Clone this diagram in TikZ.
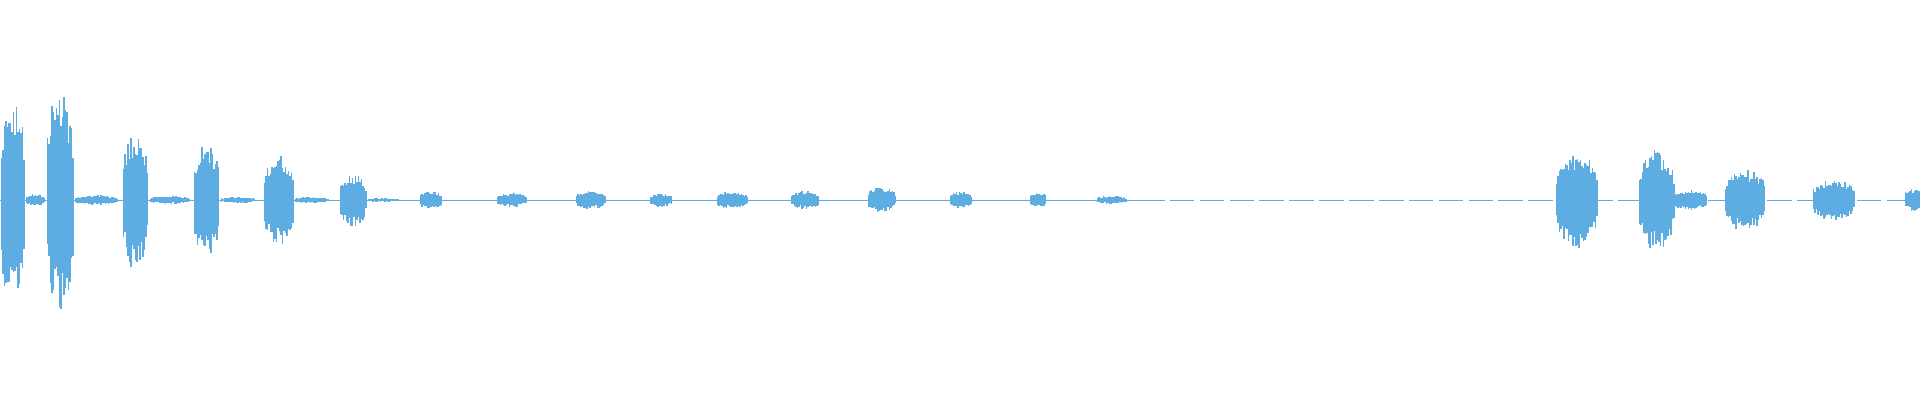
\documentclass[tikz,border=0pt]{standalone}
\definecolor{wave}{RGB}{93,173,226}
\begin{document}
\begin{tikzpicture}[x=0.02cm, y=0.02cm, bar/.style={draw=wave, line width=0.9pt}]
	\useasboundingbox (0,-200) rectangle (1920,200);
	\pgfmathsetseed{7}
	% baseline
	\draw [draw=wave, line width=0.35pt] (0,0) -- (1140,0);
	\draw [draw=wave, line width=0.35pt, dash pattern=on 14pt off 3pt] (1140,0) -- (1920,0);
	% bursts: start/end/amplitude
	\foreach \s/\e/\a in {0/25/105, 46/74/110, 122/149/70, 193/220/58, 263/294/46,
		339/367/26, 419/443/9, 496/527/7, 575/606/9, 649/673/7, 716/749/9, 790/820/9,
		867/896/13, 949/973/9, 1029/1047/8, 1096/1127/4, 1555/1598/48, 1638/1675/51,
		1672/1708/10, 1724/1766/31, 1812/1855/21, 1904/1926/12,
		25/45/6, 74/118/5, 149/190/4, 220/255/3, 294/330/3, 367/400/2}{
		\pgfmathsetmacro\w{\e-\s}
		\pgfmathsetmacro\sA{\s+1.5}
		\foreach \x in {\s,\sA,...,\e}{
			\pgfmathsetmacro\env{(max(0,sin(180*(\x-\s)/\w)))^0.3}
			\pgfmathsetmacro\hu{\a*\env*(0.6+0.4*rnd)}
			\pgfmathsetmacro\hd{\a*\env*(0.6+0.4*rnd)}
			\draw [bar] (\x,-\hd) -- (\x,\hu);
		}
	}
\end{tikzpicture}
\end{document}
